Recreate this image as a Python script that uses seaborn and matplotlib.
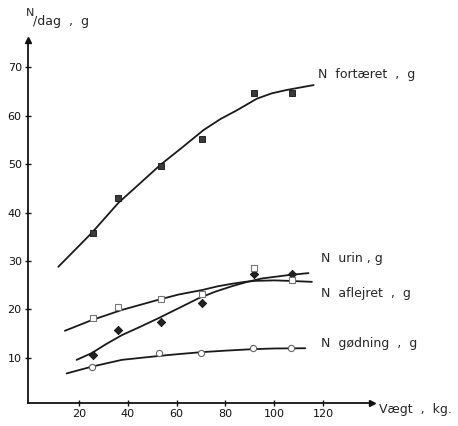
import numpy as np
import pandas as pd
import matplotlib
matplotlib.use("Agg")
import matplotlib.pyplot as plt
import seaborn as sns

# measured points (weight kg, N g per day)
weight = [25.7, 35.9, 53.7, 70.4, 91.8, 107.2]
fortaeret = [35.7, 42.9, 49.6, 55.1, 64.6, 64.7]
urin = [18.3, 20.6, 22.1, 23.1, 28.5, 26.1]
aflejret = [10.6, 15.8, 17.4, 21.3, 27.3, 27.3]
godning_x = [25.5, 53.0, 70.0, 91.1, 107.0]
godning = [8.2, 11.1, 11.0, 12.0, 12.0]

# hand drawn curves
fort_cx = [11.6, 25.3, 36.2, 45.0, 53.3, 62.0, 71.0, 78.0, 84.7, 92.9, 99.0, 105.2, 116.1]
fort_cy = [28.8, 35.8, 42.0, 46.0, 49.8, 53.3, 57.0, 59.3, 61.1, 63.5, 64.6, 65.3, 66.3]
urin_cx = [14.3, 25.3, 37.6, 52.6, 61.0, 70.4, 77.0, 82.7, 88.0, 92.2, 100.0, 105.9, 115.4]
urin_cy = [15.6, 17.8, 19.9, 22.0, 23.1, 24.0, 24.8, 25.3, 25.7, 25.9, 26.0, 25.9, 25.7]
afl_cx = [19.1, 25.3, 31.0, 37.6, 45.0, 52.6, 61.0, 69.0, 76.0, 82.7, 89.0, 95.0, 105.9, 114.0]
afl_cy = [9.6, 11.0, 12.8, 14.7, 16.4, 18.2, 20.3, 22.3, 23.7, 24.8, 25.7, 26.4, 27.1, 27.5]
god_cx = [15.0, 25.3, 37.6, 52.6, 61.0, 70.4, 80.0, 90.9, 100.0, 112.7]
god_cy = [6.8, 8.2, 9.6, 10.4, 10.8, 11.2, 11.5, 11.8, 11.95, 12.0]

xticks = [20, 40, 60, 80, 100, 120]
yticks = [10, 20, 30, 40, 50, 60, 70]

sns.set_style("ticks")
plt.rcParams['font.family'] = ['DejaVu Sans']

fig = plt.figure(figsize=(4.58, 4.26), dpi=100)
ax = fig.add_axes([28 / 458, 23 / 426, (372 - 28) / 458, (403 - 40) / 426])

curves = pd.concat([
    pd.DataFrame({"x": fort_cx, "y": fort_cy, "s": "fort"}),
    pd.DataFrame({"x": urin_cx, "y": urin_cy, "s": "urin"}),
    pd.DataFrame({"x": afl_cx, "y": afl_cy, "s": "afl"}),
    pd.DataFrame({"x": god_cx, "y": god_cy, "s": "god"}),
])
for name, grp in curves.groupby("s"):
    sns.lineplot(data=grp, x="x", y="y", sort=False, color="#1a1a1a",
                 linewidth=1.3, ax=ax, legend=False)

sns.scatterplot(x=weight, y=fortaeret, marker="s", s=22, color="#3a3a3a",
                edgecolor="#111111", linewidth=0.6, ax=ax, zorder=3)
sns.scatterplot(x=weight, y=aflejret, marker="D", s=18, color="#222222",
                edgecolor="#111111", linewidth=0.6, ax=ax, zorder=3)
sns.scatterplot(x=weight, y=urin, marker="s", s=20, facecolor="white",
                edgecolor="#777777", linewidth=0.8, ax=ax, zorder=3)
sns.scatterplot(x=godning_x, y=godning, marker="o", s=20, facecolor="white",
                edgecolor="#666666", linewidth=0.8, ax=ax, zorder=3)

ax.set_xlim(-0.8, 140)
ax.set_ylim(0.7, 75.6)
ax.set_xticks(xticks)
ax.set_yticks(yticks)
ax.set_xlabel("")
ax.set_ylabel("")
ax.tick_params(direction="inout", length=5, width=1, labelsize=8, pad=2, colors="#111111")
for side in ["top", "right"]:
    ax.spines[side].set_visible(False)
for side in ["left", "bottom"]:
    ax.spines[side].set_linewidth(1.3)
    ax.spines[side].set_color("#111111")
ax.plot(1, 0, ">", color="#111111", markersize=5, transform=ax.transAxes, clip_on=False)
ax.plot(0, 1, "^", color="#111111", markersize=5, transform=ax.transAxes, clip_on=False)

fs = 9
ax.text(118, 68.4, "N  fortæret  ,  g", fontsize=fs, va="center", ha="left", clip_on=False)
ax.text(119, 30.6, "N  urin , g", fontsize=fs, va="center", ha="left", clip_on=False)
ax.text(119, 23.2, "N  aflejret  ,  g", fontsize=fs, va="center", ha="left", clip_on=False)
ax.text(119, 12.9, "N  gødning  ,  g", fontsize=fs, va="center", ha="left", clip_on=False)
ax.text(143, -0.7, "Vægt  ,  kg.", fontsize=fs, va="center", ha="left", clip_on=False)
ax.text(-1.8, 81.2, "N", fontsize=8, va="center", ha="left", clip_on=False)
ax.text(1.2, 79.4, "/dag  ,  g", fontsize=fs, va="center", ha="left", clip_on=False)

fig.savefig("out.png", dpi=100)
